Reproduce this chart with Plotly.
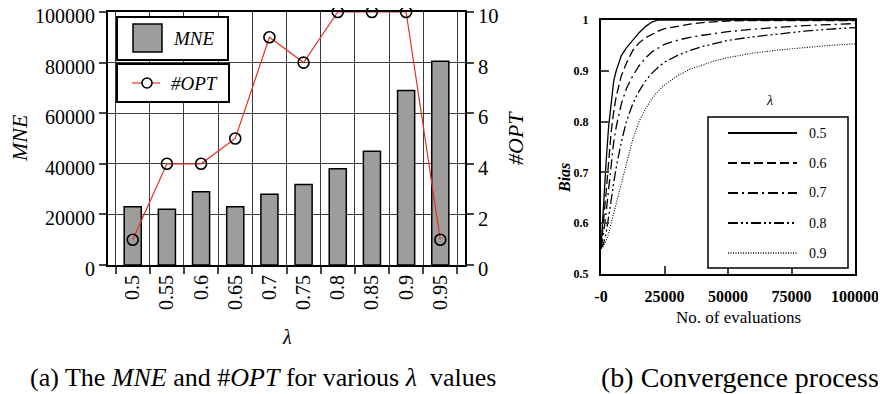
import plotly.graph_objects as go

# page body has an 8px margin, so the figure is made 8px smaller and
# positions (measured in screenshot pixels) are shifted accordingly
OFF = 8
W, H = 886 - OFF, 394 - OFF

# ---------------- data: panel (a) ----------------
lam_labels = ["0.5", "0.55", "0.6", "0.65", "0.7", "0.75", "0.8", "0.85", "0.9", "0.95"]
mne_values = [23000, 22000, 29000, 23000, 28000, 31800, 38000, 45000, 69000, 80500]
opt_values = [1, 4, 4, 5, 9, 8, 10, 10, 10, 1]
mne_ticks = [0, 20000, 40000, 60000, 80000, 100000]
opt_ticks = [0, 2, 4, 6, 8, 10]

# ---------------- data: panel (b) ----------------
evaluations = [0, 1000, 2000, 3000, 4000, 5000, 6000, 8000, 10000, 12500, 15000, 17500,
               20000, 22500, 25000, 30000, 35000, 40000, 45000, 50000, 60000, 70000,
               80000, 90000, 100000]
bias_05 = [0.55, 0.64, 0.72, 0.79, 0.84, 0.88, 0.90, 0.93, 0.945, 0.96, 0.975, 0.987,
           0.996, 1.0, 1.0, 1.0, 1.0, 1.0, 1.0, 1.0, 1.0, 1.0, 1.0, 1.0, 1.0]
bias_06 = [0.55, 0.60, 0.66, 0.72, 0.78, 0.82, 0.85, 0.89, 0.915, 0.94, 0.955, 0.965,
           0.972, 0.978, 0.983, 0.988, 0.992, 0.995, 0.997, 0.998, 0.999, 0.999, 0.999, 0.999, 0.999]
bias_07 = [0.55, 0.58, 0.62, 0.67, 0.72, 0.76, 0.79, 0.835, 0.865, 0.89, 0.91, 0.925,
           0.937, 0.945, 0.952, 0.96, 0.966, 0.97, 0.974, 0.977, 0.982, 0.986, 0.989, 0.991, 0.993]
bias_08 = [0.55, 0.56, 0.58, 0.61, 0.645, 0.68, 0.71, 0.76, 0.80, 0.835, 0.86, 0.88,
           0.895, 0.907, 0.917, 0.93, 0.94, 0.948, 0.954, 0.96, 0.967, 0.973, 0.978, 0.982, 0.985]
bias_09 = [0.55, 0.555, 0.565, 0.58, 0.60, 0.62, 0.64, 0.68, 0.72, 0.765, 0.80, 0.825,
           0.845, 0.86, 0.872, 0.89, 0.903, 0.912, 0.92, 0.926, 0.935, 0.941, 0.946, 0.95, 0.953]
series_names = ["0.5", "0.6", "0.7", "0.8", "0.9"]
series_values = [bias_05, bias_06, bias_07, bias_08, bias_09]
bias_ticks = [0.5, 0.6, 0.7, 0.8, 0.9, 1.0]
bias_ticktext = ["0.5", "0.6", "0.7", "0.8", "0.9", "1"]
eval_ticks = [0, 25000, 50000, 75000, 100000]
eval_ticktext = ["-0", "25000", "50000", "75000", "100000"]

# ---------------- styles ----------------
FONT = "Liberation Serif"
RED = "#e4321f"
GRAY = "#9e9d9b"
GRID = "#3c3c3c"
dash_styles = ["solid", "9px,4px", "10px,4px,2px,4px", "10px,3px,2px,3px,2px,3px", "1px,1.5px"]


def px(x):
    return (x - OFF) / W


def py(y):
    return 1 - (y - OFF) / H


def note(text, x, y, size, angle=0):
    return dict(text=text, x=px(x), y=py(y), xref="paper", yref="paper",
                xanchor="center", yanchor="middle", textangle=angle,
                showarrow=False, font=dict(size=size, family=FONT, color="black"))


fig = go.Figure()

fig.add_trace(go.Bar(
    x=lam_labels, y=mne_values, name="MNE", width=0.5,
    marker=dict(color=GRAY, line=dict(color="black", width=1.5)),
    xaxis="x", yaxis="y", showlegend=False))

fig.add_trace(go.Scatter(
    x=lam_labels, y=opt_values, name="#OPT", mode="lines+markers",
    line=dict(color=RED, width=1.2),
    marker=dict(symbol="circle-open", size=11, color="black", line=dict(width=1.6)),
    cliponaxis=False, xaxis="x", yaxis="y2", showlegend=False))

for name, vals, dash in zip(series_names, series_values, dash_styles):
    fig.add_trace(go.Scatter(
        x=evaluations, y=vals, name=name, mode="lines",
        line=dict(color="black", width=1.3 if dash != dash_styles[-1] else 1.1, dash=dash),
        xaxis="x2", yaxis="y3", showlegend=False))

shapes = []
annotations = []

# ---- legend (a) ----
for (x0, y0, x1, y1) in [(117, 17, 228, 60), (117, 64, 229, 102)]:
    shapes.append(dict(type="rect", xref="paper", yref="paper", layer="above",
                       x0=px(x0), x1=px(x1), y0=py(y1), y1=py(y0),
                       fillcolor="white", line=dict(color="black", width=2)))
shapes.append(dict(type="rect", xref="paper", yref="paper", layer="above",
                   x0=px(133), x1=px(162), y0=py(52), y1=py(24),
                   fillcolor=GRAY, line=dict(color="black", width=1.5)))
shapes.append(dict(type="line", xref="paper", yref="paper", layer="above",
                   x0=px(132), x1=px(160), y0=py(83), y1=py(83),
                   line=dict(color=RED, width=1.2)))
shapes.append(dict(type="circle", xref="paper", yref="paper", layer="above",
                   x0=px(142), x1=px(152), y0=py(88), y1=py(78),
                   fillcolor="white", line=dict(color="black", width=1.6)))
annotations.append(note("<i>MNE</i>", 194, 38, 19))
annotations.append(note("<i>#OPT</i>", 194, 83, 19))

# ---- legend (b) ----
shapes.append(dict(type="rect", xref="paper", yref="paper", layer="above",
                   x0=px(708), x1=px(848), y0=py(268), y1=py(117),
                   fillcolor="white", line=dict(color="black", width=1.5)))
for i, (name, dash) in enumerate(zip(series_names, dash_styles)):
    yy = 133 + i * 30
    shapes.append(dict(type="line", xref="paper", yref="paper", layer="above",
                       x0=px(728), x1=px(797), y0=py(yy), y1=py(yy),
                       line=dict(color="black", width=2 if i < 4 else 1.5, dash=dash)))
    annotations.append(note(name, 818, yy, 14))
annotations.append(note("<i>λ</i>", 769, 101, 14))

# ---- axis titles and captions ----
annotations += [
    note("<i>MNE</i>", 19, 138, 22, -90),
    note("<i>#OPT</i>", 515, 138, 22, -90),
    note("<i>λ</i>", 287, 337, 20),
    note("<b><i>Bias</i></b>", 564, 178, 16, -90),
    note("No. of evaluations", 738, 317, 17),
    note("(a) The <i>MNE</i> and #<i>OPT</i> for various <i>λ</i>  values", 263, 377, 26),
    note("(b) Convergence process", 740, 377, 28),
]

fig.update_layout(
    width=W, height=H, autosize=False,
    margin=dict(l=0, r=0, t=0, b=0, pad=0, autoexpand=False),
    paper_bgcolor="white", plot_bgcolor="white",
    font=dict(family=FONT, color="black"),
    bargap=0.5,
    xaxis=dict(domain=[px(108), px(465)], anchor="y", type="category", automargin=False,
               categoryorder="array", categoryarray=lam_labels, ticklabeloverflow="allow",
               tickson="boundaries", ticks="outside", ticklen=7, tickwidth=1.5,
               tickangle=-90, tickfont=dict(size=20),
               showgrid=True, gridcolor=GRID, gridwidth=1,
               showline=True, linecolor="black", linewidth=2, mirror=True),
    yaxis=dict(domain=[py(265), py(12)], anchor="x", range=[0, 100000], automargin=False,
               tickvals=mne_ticks, tickformat="d", ticks="outside", ticklen=7, tickwidth=1.5,
               ticklabeloverflow="allow", ticklabelshift=4,
               tickfont=dict(size=20), showgrid=True, gridcolor=GRID, gridwidth=1,
               showline=True, linecolor="black", linewidth=2, mirror=True, zeroline=False),
    yaxis2=dict(overlaying="y", side="right", anchor="x", range=[0, 10], automargin=False,
                tickvals=opt_ticks, ticks="outside", ticklen=7, tickwidth=1.5,
                ticklabeloverflow="allow", ticklabelshift=4,
                tickfont=dict(size=20.5), showgrid=False, zeroline=False,
                showline=True, linecolor="black", linewidth=2),
    xaxis2=dict(domain=[px(601), px(855)], anchor="y3", range=[0, 100000], automargin=False,
                tickvals=eval_ticks, ticktext=eval_ticktext, ticks="inside", ticklen=8,
                ticklabeloverflow="allow",
                tickwidth=1.5, tickfont=dict(size=16, weight="bold"), ticklabelstandoff=7,
                showgrid=False, zeroline=False,
                showline=True, linecolor="black", linewidth=2, mirror=True),
    yaxis3=dict(domain=[py(274), py(20)], anchor="x2", range=[0.5, 1.0], automargin=False,
                tickvals=bias_ticks, ticktext=bias_ticktext, ticks="inside", ticklen=8,
                ticklabeloverflow="allow",
                tickwidth=1.5, tickfont=dict(size=12, weight="bold"), ticklabelstandoff=8,
                showgrid=False, zeroline=False,
                showline=True, linecolor="black", linewidth=2, mirror=True),
    shapes=shapes,
    annotations=annotations,
)

fig.write_html("out.html")
